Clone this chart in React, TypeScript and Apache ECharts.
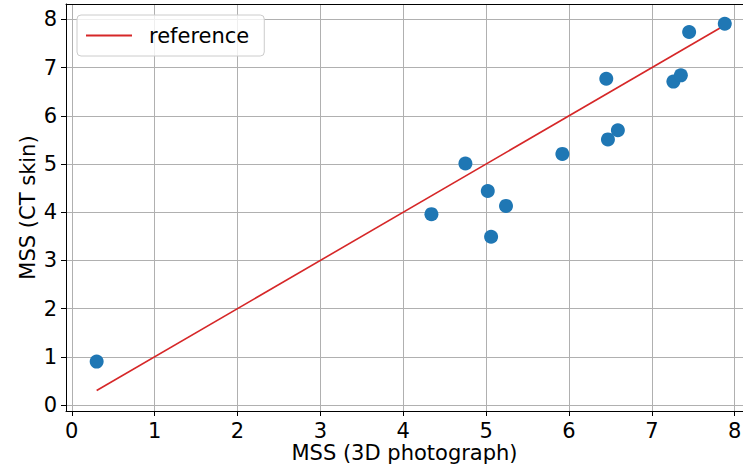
import React, { useEffect, useRef } from "react";
import * as echarts from "echarts";

const photoMSS = [0.3, 4.34, 4.75, 5.02, 5.06, 5.24, 5.92, 6.45, 6.47, 6.59, 7.26, 7.35, 7.45, 7.88];
const ctMSS = [0.9, 3.96, 5.01, 4.44, 3.49, 4.13, 5.21, 6.77, 5.51, 5.7, 6.71, 6.84, 7.74, 7.91];
const refX = [0.3, 7.88];
const refY = [0.3, 7.88];
const tickValues = [0, 1, 2, 3, 4, 5, 6, 7, 8];

const FONT = "DejaVu Sans";
const FS = 21;

export default function App() {
  const ref = useRef<HTMLDivElement>(null);
  useEffect(() => {
    if (!ref.current) return;
    const chart = echarts.init(ref.current, null, { renderer: "svg" });
    const scatterData = photoMSS.map((x, i) => [x, ctMSS[i]]);
    const lineData = refX.map((x, i) => [x, refY[i]]);
    chart.setOption({
      animation: false,
      backgroundColor: "#ffffff",
      textStyle: { fontFamily: FONT },
      grid: { left: 66, top: 4, right: 0, bottom: 56, containLabel: false, outerBoundsMode: "none" },
      legend: {
        data: [{ name: "reference", icon: "rect" }],
        left: 77,
        top: 15,
        orient: "vertical",
        padding: [10, 15, 10, 9],
        itemWidth: 46,
        itemHeight: 2,
        backgroundColor: "rgba(255,255,255,0.8)",
        borderColor: "#cccccc",
        borderWidth: 1,
        borderRadius: 4,
        textStyle: { fontFamily: FONT, fontSize: FS, color: "#000", padding: [0, 0, 0, 12] },
      },
      xAxis: [
        {
          type: "value",
          min: -0.07,
          max: 8.1,
          name: "MSS (3D photograph)",
          nameLocation: "middle",
          nameGap: 31,
          nameMoveOverlap: false,
          nameTextStyle: { fontFamily: FONT, fontSize: FS, color: "#000" },
          axisLine: { show: true, onZero: false, lineStyle: { color: "#000", width: 1 } },
          axisTick: { show: true, inside: false, length: 5, customValues: tickValues, lineStyle: { color: "#000" } },
          axisLabel: { customValues: tickValues, fontFamily: FONT, fontSize: FS, color: "#000", margin: 9, formatter: (v: number) => String(v) },
          splitLine: { show: true, lineStyle: { color: "#b0b0b0", width: 1 } },
        },
        {
          type: "value",
          position: "top",
          min: -0.07,
          max: 8.1,
          axisLine: { show: true, onZero: false, lineStyle: { color: "#000", width: 1 } },
          axisTick: { show: false },
          axisLabel: { show: false },
          splitLine: { show: false },
        },
      ],
      yAxis: {
        type: "value",
        min: -0.125,
        max: 8.32,
        name: "MSS (CT skin)",
        nameLocation: "middle",
        nameGap: 28,
        nameMoveOverlap: false,
        nameTextStyle: { fontFamily: FONT, fontSize: FS, color: "#000" },
        axisLine: { show: true, onZero: false, lineStyle: { color: "#000", width: 1 } },
        axisTick: { show: true, inside: false, length: 5, customValues: tickValues, lineStyle: { color: "#000" } },
        axisLabel: { customValues: tickValues, fontFamily: FONT, fontSize: FS, color: "#000", margin: 9, formatter: (v: number) => String(v) },
        splitLine: { show: true, lineStyle: { color: "#b0b0b0", width: 1 } },
      },
      series: [
        {
          name: "data",
          type: "scatter",
          xAxisIndex: 0,
          data: scatterData,
          symbolSize: 14,
          itemStyle: { color: "#1f77b4", opacity: 1 },
          z: 3,
        },
        {
          name: "reference",
          type: "line",
          xAxisIndex: 0,
          data: lineData,
          symbol: "none",
          lineStyle: { color: "#d62728", width: 1.6 },
          itemStyle: { color: "#d62728" },
          z: 2,
        },
      ],
    });
    return () => chart.dispose();
  }, []);
  return <div ref={ref} style={{ width: 743, height: 467, position: "absolute", left: 0, top: 0 }} />;
}
